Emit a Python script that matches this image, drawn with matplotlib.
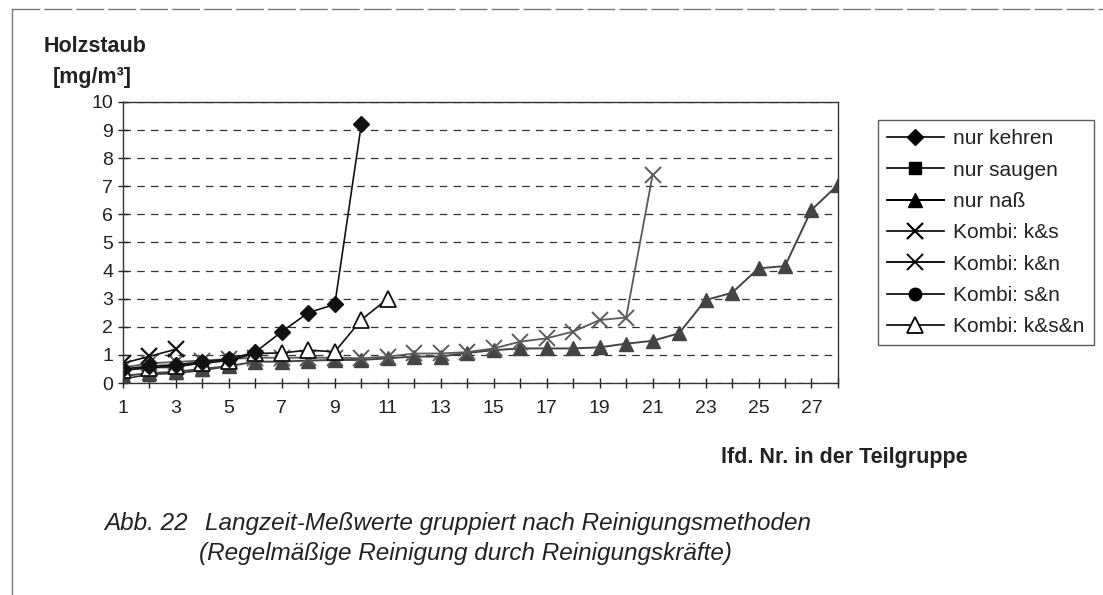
import numpy as np
import matplotlib.pyplot as plt
from matplotlib.lines import Line2D

plt.rcParams['font.family'] = ['Liberation Sans', 'DejaVu Sans']

# Daten
kehren = [0.5, 0.6, 0.65, 0.75, 0.85, 1.1, 1.83, 2.5, 2.8, 9.2]
saugen = [0.15, 0.3, 0.35, 0.45, 0.6]
nass = [0.25, 0.35, 0.4, 0.5, 0.6, 0.76, 0.76, 0.8, 0.82, 0.82, 0.88, 0.94, 0.94,
        1.07, 1.17, 1.23, 1.23, 1.23, 1.27, 1.4, 1.5, 1.77, 2.95, 3.21, 4.08, 4.16,
        6.16, 7.05]
k_s = [0.7, 0.95, 1.2]
k_n = [0.55, 0.7, 0.75, 0.8, 0.85, 0.9, 0.9, 0.9, 0.9, 0.88, 0.94, 1.05, 1.05,
       1.1, 1.23, 1.47, 1.59, 1.83, 2.24, 2.33, 7.4]
s_n = [0.45, 0.55, 0.55, 0.75, 0.85]
k_s_n = [0.45, 0.55, 0.6, 0.7, 0.8, 1.05, 1.07, 1.17, 1.11, 2.25, 3.0]

labels = ['nur kehren', 'nur saugen', 'nur naß', 'Kombi: k&s', 'Kombi: k&n',
          'Kombi: s&n', 'Kombi: k&s&n']
xticks = np.arange(1, 29)

fig = plt.figure(figsize=(11.03, 5.95), dpi=100)
ax = fig.add_axes([0.1115, 0.3563, 0.6482, 0.4723])

def x_of(vals):
    return np.arange(1, len(vals) + 1)

ax.plot(x_of(saugen), saugen, '-', marker='s', ms=8, color='#333333', lw=1.2, label=labels[1])
ax.plot(x_of(nass), nass, '-', marker='^', ms=10, color='#444444', lw=1.4, label=labels[2])
ax.plot(x_of(k_n), k_n, '-', marker='x', ms=11, mew=1.4, color='#5a5a5a', lw=1.3, label=labels[4])
ax.plot(x_of(s_n), s_n, '-', marker='o', ms=9, color='#484848', lw=1.2, label=labels[5])
ax.plot(x_of(k_s), k_s, '-', marker='x', ms=11, mew=1.6, color='#111111', lw=1.2, label=labels[3])
ax.plot(x_of(k_s_n), k_s_n, '-', marker='^', ms=11, mfc='white', mew=1.3, color='#111111', lw=1.2, label=labels[6])
ax.plot(x_of(kehren), kehren, '-', marker='D', ms=8, color='#111111', lw=1.2, label=labels[0])

ax.set_xlim(1, 28)
ax.set_ylim(0, 10)
ax.set_yticks(np.arange(0, 11))
ax.set_xticks(xticks)
ax.set_xticklabels([str(v) if v % 2 == 1 else '' for v in xticks])
ax.tick_params(axis='both', direction='inout', length=7, width=1, labelsize=14, color='#222222',
               labelcolor='#222222')
ax.tick_params(axis='x', pad=9)
ax.yaxis.grid(True, linestyle=(0, (6, 5)), color='#333333', lw=0.9)
for s in ax.spines.values():
    s.set_color('#333333')
    s.set_linewidth(1.0)

# Legende in der Reihenfolge der Vorlage
handles, labs = ax.get_legend_handles_labels()
order = [labs.index(l) for l in labels]
leg = ax.legend([handles[i] for i in order], labels, loc='upper left',
                bbox_to_anchor=(1.056, 0.936), borderaxespad=0, fontsize=15,
                frameon=True, fancybox=False, edgecolor='#333333', handlelength=2.7,
                labelspacing=0.59, borderpad=0.45, handletextpad=0.45)
leg.get_frame().set_linewidth(1.0)
for t in leg.get_texts():
    t.set_color('#222222')
for h in leg.legend_handles:
    h.set_color('black')
    if h.get_markerfacecolor() != 'white':
        h.set_markerfacecolor('black')

fig.text(0.040, 0.913, 'Holzstaub', fontsize=15.5, fontweight='bold', color='#222222')
fig.text(0.048, 0.860, '[mg/m³]', fontsize=15.5, fontweight='bold', color='#222222')
fig.text(0.877, 0.222, 'lfd. Nr. in der Teilgruppe', fontsize=15.5, fontweight='bold',
         color='#222222', ha='right')

fig.text(0.170, 0.110, 'Abb. 22', fontsize=17.5, style='italic', color='#222222', ha='right')
fig.text(0.186, 0.110, 'Langzeit-Meßwerte gruppiert nach Reinigungsmethoden',
         fontsize=17.5, style='italic', color='#222222')
fig.text(0.180, 0.058, '(Regelmäßige Reinigung durch Reinigungskräfte)',
         fontsize=17.5, style='italic', color='#222222')

# Rahmen der Vorlage (Scan)
fig.add_artist(Line2D([0.011, 0.011], [0.0, 0.985], color='#777777', lw=1.0))
fig.add_artist(Line2D([0.011, 1.0], [0.985, 0.985], color='#777777', lw=1.0, linestyle=(0, (20, 3))))

fig.savefig('out.png', dpi=100)
